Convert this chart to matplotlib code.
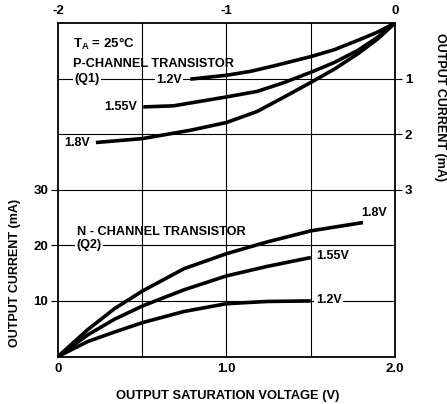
import matplotlib
matplotlib.use("Agg")
import matplotlib.pyplot as plt

plt.rcParams['font.family'] = ['Liberation Sans', 'DejaVu Sans']
plt.rcParams['font.weight'] = 'bold'
plt.rcParams['mathtext.fontset'] = 'custom'
plt.rcParams['mathtext.rm'] = 'Liberation Sans:bold'
plt.rcParams['mathtext.bf'] = 'Liberation Sans:bold'

# ---- data ----
# P-channel (Q1): output saturation voltage (V, top axis) vs output current (mA, right axis)
p_v_12 = [-1.215, -1.00, -0.857, -0.717, -0.494, -0.36, -0.219, -0.10, 0.0]
p_i_12 = [1.01, 0.94, 0.87, 0.77, 0.60, 0.48, 0.31, 0.16, 0.0]
p_v_155 = [-1.494, -1.315, -1.00, -0.817, -0.657, -0.494, -0.36, -0.219, -0.10, 0.0]
p_i_155 = [1.51, 1.49, 1.33, 1.23, 1.07, 0.88, 0.71, 0.49, 0.25, 0.0]
p_v_18 = [-1.775, -1.50, -1.215, -1.00, -0.817, -0.657, -0.494, -0.36, -0.219, -0.10, 0.0]
p_i_18 = [2.15, 2.08, 1.93, 1.79, 1.59, 1.33, 1.06, 0.83, 0.55, 0.28, 0.0]

# N-channel (Q2): output saturation voltage (V, bottom axis) vs output current (mA, left axis)
n_v_18 = [0.0, 0.177, 0.335, 0.502, 0.748, 1.00, 1.24, 1.50, 1.81]
n_i_18 = [0.0, 4.85, 8.6, 11.8, 15.8, 18.5, 20.6, 22.6, 24.1]
n_v_155 = [0.0, 0.177, 0.335, 0.502, 0.748, 1.00, 1.24, 1.50]
n_i_155 = [0.0, 3.9, 6.7, 9.1, 12.0, 14.5, 16.2, 17.8]
n_v_12 = [0.0, 0.177, 0.335, 0.502, 0.748, 1.00, 1.24, 1.50]
n_i_12 = [0.0, 2.7, 4.4, 6.1, 8.1, 9.5, 9.9, 10.0]

bottom_ticks = [0, 1.0, 2.0]
bottom_labels = ['0', '1.0', '2.0']
left_ticks = [10, 20, 30]
left_labels = ['10', '20', '30']
top_ticks = [-2, -1, 0]
top_labels = ['-2', '-1', '0']
right_ticks = [1, 2, 3]
right_labels = ['1', '2', '3']

# ---- figure ----
fig = plt.figure(figsize=(4.47, 4.04), dpi=100)
pos = [58 / 447, (404 - 356.5) / 404, (395 - 58) / 447, (356.5 - 23) / 404]
ax = fig.add_axes(pos)
axP = fig.add_axes(pos, frameon=False)
axP.patch.set_visible(False)

FS = 9
FS_TICK = 9.5
FS_BIG = 9.2
LW = 2.6
line_kw = dict(color='black', lw=LW, solid_capstyle='butt', solid_joinstyle='round', zorder=3)

# N-channel axes (bottom/left)
ax.set_xlim(0, 2.0)
ax.set_ylim(0, 60)
for v in [0.5, 1.0, 1.5]:
    ax.axvline(v, color='black', lw=0.8, zorder=1)
for y in [10, 20, 30, 40, 50]:
    ax.axhline(y, color='black', lw=0.8, zorder=1)
ax.set_xticks(bottom_ticks)
ax.set_xticklabels(bottom_labels, fontsize=FS_TICK, fontweight='bold')
ax.set_yticks(left_ticks)
ax.set_yticklabels(left_labels, fontsize=FS_TICK, fontweight='bold')
ax.tick_params(axis='x', length=0, pad=5)
ax.tick_params(axis='y', direction='out', length=5, width=0.8, pad=2)
for s in ax.spines.values():
    s.set_linewidth(1.3)

ax.plot(n_v_18, n_i_18, **line_kw)
ax.plot(n_v_155, n_i_155, **line_kw)
ax.plot(n_v_12, n_i_12, **line_kw)

wb = dict(facecolor='white', edgecolor='none', pad=1.0)
ax.text(0.112, 22.4, 'N - CHANNEL TRANSISTOR', fontsize=FS_BIG, fontweight='bold',
        ha='left', va='center', zorder=4)
ax.text(0.112, 20.0, '(Q2)', fontsize=FS, fontweight='bold', ha='left', va='center',
        bbox=wb, zorder=4)
ax.text(1.80, 25.8, '1.8V', fontsize=FS, fontweight='bold', ha='left', va='center', zorder=4)
ax.text(1.53, 18.0, '1.55V', fontsize=FS, fontweight='bold', ha='left', va='center', zorder=4)
ax.text(1.53, 10.1, '1.2V', fontsize=FS, fontweight='bold', ha='left', va='center',
        bbox=wb, zorder=4)

# P-channel axes (top/right)
axP.set_xlim(-2, 0)
axP.set_ylim(6, 0)
axP.xaxis.tick_top()
axP.yaxis.tick_right()
axP.set_xticks(top_ticks)
axP.set_xticklabels(top_labels, fontsize=FS_TICK, fontweight='bold')
axP.set_yticks(right_ticks)
axP.set_yticklabels(right_labels, fontsize=FS_TICK, fontweight='bold')
axP.tick_params(axis='x', length=0, pad=4)
axP.tick_params(axis='y', direction='out', length=5, width=0.8, pad=2)

axP.plot(p_v_12, p_i_12, **line_kw)
axP.plot(p_v_155, p_i_155, **line_kw)
axP.plot(p_v_18, p_i_18, **line_kw)

axP.text(-1.911, 0.38, r'T$_{\mathrm{A}}$ = 25°C', fontsize=9.5, fontweight='bold',
         ha='left', va='center')
axP.text(-1.911, 0.74, 'P-CHANNEL TRANSISTOR', fontsize=FS_BIG, fontweight='bold',
         ha='left', va='center')
axP.text(-1.905, 1.0, '(Q1)', fontsize=FS, fontweight='bold', ha='left', va='center',
         bbox=wb, zorder=4)
axP.text(-1.34, 1.03, '1.2V', fontsize=FS, fontweight='bold', ha='center', va='center',
         bbox=wb, zorder=4)
axP.text(-1.53, 1.51, '1.55V', fontsize=FS, fontweight='bold', ha='right', va='center')
axP.text(-1.81, 2.15, '1.8V', fontsize=FS, fontweight='bold', ha='right', va='center')

fig.text(15 / 447, 1 - 273 / 404, 'OUTPUT CURRENT (mA)', rotation=90, fontsize=FS,
         fontweight='bold', ha='center', va='center')
fig.text(440 / 447, 1 - 107 / 404, 'OUTPUT CURRENT (mA)', rotation=-90, fontsize=FS,
         fontweight='bold', ha='center', va='center')
fig.text(228 / 447, 1 - 396 / 404, 'OUTPUT SATURATION VOLTAGE (V)', fontsize=9.3,
         fontweight='bold', ha='center', va='center')

fig.savefig('out.png', dpi=100, facecolor='white')
